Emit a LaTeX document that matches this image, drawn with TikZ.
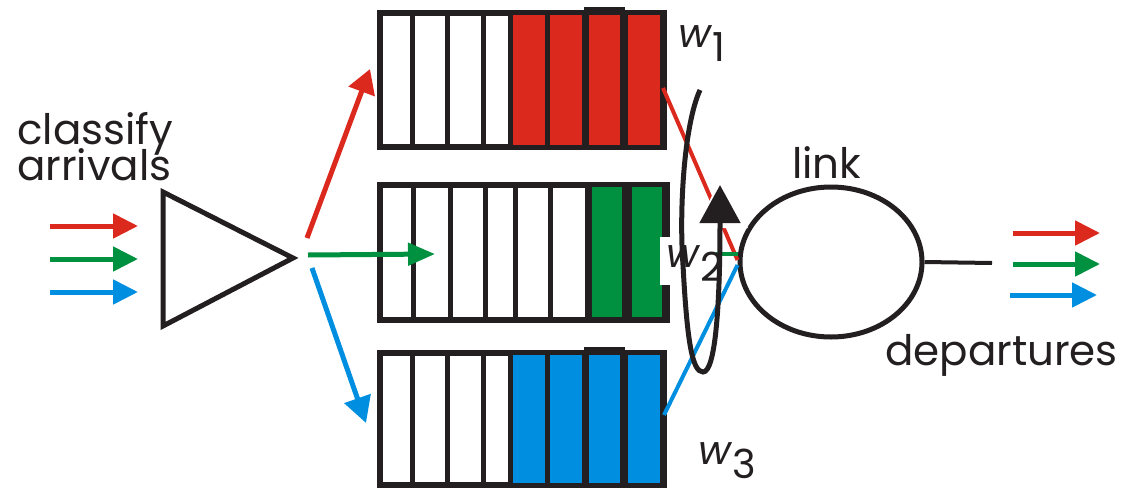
\documentclass[tikz,border=0pt]{standalone}
\usepackage{fontspec}
\setmainfont{Poppins}
\usetikzlibrary{arrows.meta,shapes.geometric}
\definecolor{qred}{RGB}{220,41,30}
\definecolor{qgreen}{RGB}{0,145,64}
\definecolor{qblue}{RGB}{0,143,224}
\definecolor{qblack}{RGB}{35,31,32}
\tikzset{
  queue/.style={draw=qblack, line width=6pt, rectangle, inner sep=0pt},
  divider/.style={draw=qblack, line width=5pt},
  arr/.style={line width=5pt, -{Triangle[length=25pt,width=24pt]}},
  feed/.style={line width=4pt},
  lbl/.style={inner sep=0pt, text=qblack, font=\fontsize{42}{37}\selectfont},
  wlbl/.style={inner sep=0pt, text=qblack, font=\fontsize{40}{44}\selectfont},
}
\newcommand{\wsub}[1]{{\itshape w}\kern1pt\raisebox{-14pt}{#1}}
\begin{document}
\begin{tikzpicture}[x=1pt,y=-1pt]
\useasboundingbox (0,0) rectangle (1121,490);

% labels
\node[lbl, anchor=base west, align=left] (cl) at (17,180) {classify\\[-8pt]arrivals};

% input arrows
\coordinate (ri) at (50,226); \coordinate (rit) at (138,226);
\coordinate (gi) at (50,259); \coordinate (git) at (138,259);
\coordinate (bi) at (50,292); \coordinate (bit) at (138,292);
\draw[arr, qred] (ri) -- (rit);
\draw[arr, qgreen] (gi) -- (git);
\draw[arr, qblue] (bi) -- (bit);

% classifier triangle
\coordinate (t1) at (163,192);
\coordinate (t2) at (163,326);
\coordinate (tip) at (293,258);
\draw[qblack, line width=5pt, line join=miter] (t1) -- (tip) -- (t2) -- cycle;

% queue 1
\node[queue, minimum width=284pt, minimum height=134pt] (q1) at (522,80) {};
\foreach \x in {412,447,483} \draw[divider] (\x,13) -- (\x,147);
\fill[qblack] (508,13) rectangle (664,147);
\fill[qblack] (584,7) rectangle (625,20);
\foreach \a/\b in {513/545,550/582,589/620,628/660} \fill[qred] (\a,15) rectangle (\b,145);

% queue 2
\node[queue, minimum width=287pt, minimum height=135pt] (q2) at (523.5,252.5) {};
\foreach \x in {413,450,485,515,550} \draw[divider] (\x,185) -- (\x,320);
\fill[qblack] (585,185) rectangle (667,320);
\foreach \a/\b in {592/622,632/662} \fill[qgreen] (\a,187) rectangle (\b,317);

% queue 3
\node[queue, minimum width=284pt, minimum height=132pt] (q3) at (522,419) {};
\foreach \x in {412,447,483} \draw[divider] (\x,353) -- (\x,485);
\fill[qblack] (508,353) rectangle (664,485);
\fill[qblack] (584,347) rectangle (625,360);
\foreach \a/\b in {513/545,550/582,589/620,628/660} \fill[qblue] (\a,355) rectangle (\b,483);

% classifier outputs
\coordinate (rs) at (307,238); \coordinate (re) at (370,69);
\coordinate (gs) at (308,255); \coordinate (ge) at (435,254);
\coordinate (bs) at (312,268); \coordinate (be) at (366,423);
\draw[qred, line width=5pt, -{Triangle[length=24pt,width=27pt]}] (rs) -- (re);
\draw[qgreen, line width=5pt, -{Triangle[length=27pt,width=22pt]}] (gs) -- (ge);
\draw[qblue, line width=5pt, -{Triangle[length=26pt,width=27pt]}] (bs) -- (be);

% link
\node[draw=qblack, line width=5pt, ellipse, minimum width=182pt, minimum height=150pt, inner sep=0pt] (link) at (831,262) {};
\node[lbl, anchor=base west] (linklbl) at (792,178) {link};
\coordinate (lend) at (992,263);
\draw[qblack, line width=4pt] (link.east) -- (lend);

% queue to link feeds
\coordinate (q1o) at (663,88);
\coordinate (q2o) at (716,254);
\coordinate (q3o) at (664,415);
\draw[feed, qred] (q1o) -- ([yshift=2pt]link.west);
\draw[feed, qgreen] (q2o) -- (q2o -| link.west);
\draw[feed, qblue] (q3o) -- ([yshift=-3pt]link.west);

% w2 label with white background
\node[fill=white, inner sep=0pt, minimum width=52pt, minimum height=48pt] (w2box) at (686,261) {};
\node[wlbl, anchor=base west] (w2) at (666,267) {\wsub{2}};
\node[wlbl, anchor=base west] (w1) at (678,47) {\wsub{1}};
\node[wlbl, anchor=base west, text depth=0pt] (w3) at (698,464) {\wsub{3}};

% round robin loop
\fill[white] (720,178) -- (748,228) -- (697,228) -- cycle;
\coordinate (ls) at (700,90);
\coordinate (le) at (720,185);
\draw[qblack, line width=5pt, -{Triangle[length=38pt,width=40pt]}]
  (ls) .. controls (684,125) and (679,210) .. (683,265)
  .. controls (687,340) and (692,372) .. (703,372)
  .. controls (716,372) and (720,300) .. (le);

% departures
\node[lbl, anchor=base west] (dep) at (885,365) {departures};
\coordinate (ro) at (1013,233); \coordinate (rot) at (1100,233);
\coordinate (go) at (1013,264); \coordinate (got) at (1100,264);
\coordinate (bo) at (1010,295); \coordinate (bot) at (1097,295);
\draw[arr, qred] (ro) -- (rot);
\draw[arr, qgreen] (go) -- (got);
\draw[arr, qblue] (bo) -- (bot);
\end{tikzpicture}
\end{document}
